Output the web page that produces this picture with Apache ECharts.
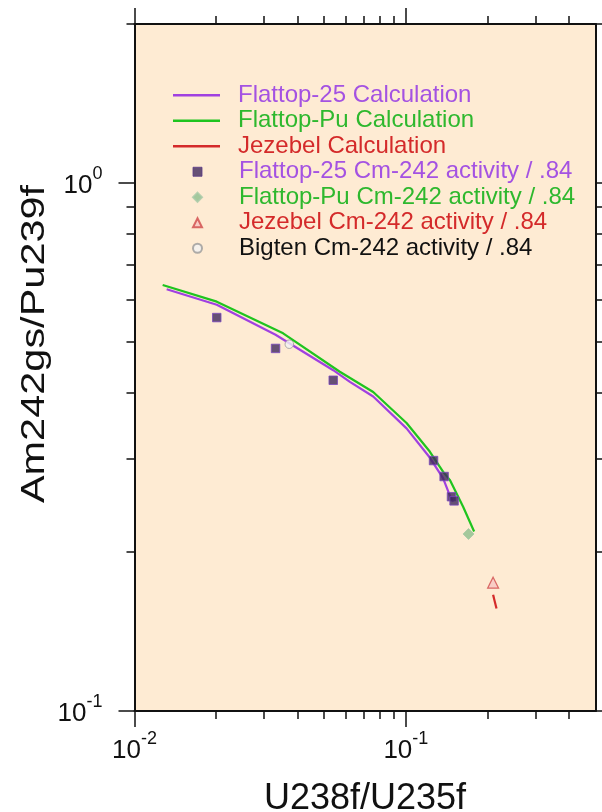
<!DOCTYPE html>
<html><head><meta charset="utf-8">
<script src="https://cdn.jsdelivr.net/npm/echarts@6/dist/echarts.min.js"></script>
<style>html,body{margin:0;padding:0;background:#fff}#c{width:602px;height:812px}</style>
</head><body><div id="c"></div>
<script>
// ---- tick values ----
const xMajorTicks = [0.01, 0.1];
const xMinorTicks = [0.02, 0.03, 0.04, 0.05, 0.06, 0.07, 0.08, 0.09, 0.2, 0.3, 0.4];
const yMajorTicks = [0.1, 1];
const yMinorTicks = [0.2, 0.3, 0.4, 0.5, 0.6, 0.7, 0.8, 0.9, 2];

// ---- calculated curves ----
const flattop25CalcX = [0.01314, 0.0201, 0.0331, 0.0540, 0.0622, 0.0758, 0.1006, 0.1225, 0.1371, 0.1452, 0.1493];
const flattop25CalcY = [0.629, 0.588, 0.516, 0.442, 0.420, 0.394, 0.343, 0.302, 0.276, 0.256, 0.249];
const flattopPuCalcX = [0.0127, 0.0201, 0.0353, 0.0571, 0.0758, 0.1006, 0.1225, 0.1371, 0.1452, 0.1626, 0.1785];
const flattopPuCalcY = [0.641, 0.596, 0.519, 0.439, 0.402, 0.351, 0.310, 0.284, 0.274, 0.2437, 0.2187];
const jezebelCalcX = [0.2097, 0.2158];
const jezebelCalcY = [0.166, 0.1564];

// ---- measured points (Cm-242 activity / .84) ----
const flattop25MeasX = [0.0201, 0.0331, 0.0540, 0.1265, 0.1384, 0.1473, 0.1506];
const flattop25MeasY = [0.556, 0.486, 0.423, 0.298, 0.278, 0.2546, 0.250];
const flattopPuMeasX = [0.1702];
const flattopPuMeasY = [0.2164];
const jezebelMeasX = [0.2097];
const jezebelMeasY = [0.175];
const bigtenMeasX = [0.0372];
const bigtenMeasY = [0.495];

const names = [
  'Flattop-25 Calculation', 'Flattop-Pu Calculation', 'Jezebel Calculation',
  'Flattop-25 Cm-242 activity / .84', 'Flattop-Pu Cm-242 activity / .84',
  'Jezebel Cm-242 activity / .84', 'Bigten Cm-242 activity / .84'
];

const FONT = '"Liberation Sans", Arial, Helvetica, sans-serif';
const INK = '#111111';
const PURPLE = '#A040E0', GREEN = '#1FC41F', RED = '#D42A2A';
const PURPLE_T = '#A452E2', GREEN_T = '#2EB82E', RED_T = '#D42A2A';

const zip = (xs, ys) => xs.map((x, i) => [x, ys[i]]);

const supLabel = v => {
  const e = Math.round(Math.log10(v));
  return '{b|10}{s|' + e + '}';
};
const rich = {
  b: { fontSize: 26, lineHeight: 26, fontFamily: FONT, color: INK, verticalAlign: 'bottom' },
  s: { fontSize: 18, lineHeight: 18, fontFamily: FONT, color: INK, verticalAlign: 'bottom', padding: [0, 0, 16, 0] }
};

const XMIN = 0.01, XMAX = 0.5, YMIN = 0.1, YMAX = 2;

function mkAxis(pos, kind, isX) {
  const major = kind === 'major';
  const ticks = isX ? (major ? xMajorTicks : xMinorTicks) : (major ? yMajorTicks : yMinorTicks);
  const labelled = major && (pos === 'bottom' || pos === 'left');
  const a = {
    type: 'log', logBase: 10, position: pos,
    min: isX ? XMIN : YMIN, max: isX ? XMAX : YMAX,
    axisLine: { show: major, onZero: false, lineStyle: { color: INK, width: 2 } },
    axisTick: { show: true, inside: false, length: major ? 16 : 8, customValues: ticks,
                lineStyle: { color: INK, width: 1.5 } },
    axisLabel: { show: labelled, customValues: ticks, formatter: supLabel, rich: rich,
                 margin: isX ? 27 : 32, padding: isX ? 0 : [6, 0, 0, 0], color: INK },
    splitLine: { show: false },
    minorTick: { show: false }, minorSplitLine: { show: false }
  };
  if (isX && pos === 'bottom' && major) {
    a.name = 'U238f/U235f';
    a.nameLocation = 'middle';
    a.nameGap = 70;
    a.nameTextStyle = { fontSize: 36, fontFamily: FONT, color: INK };
  }
  return a;
}

const chart = echarts.init(document.getElementById('c'), null, { renderer: 'canvas' });
const legendText = { fontSize: 24, lineHeight: 25.5, fontFamily: FONT };
const option = {
  animation: false,
  backgroundColor: '#ffffff',
  grid: { left: 134.5, top: 24, right: 6.5, bottom: 101, show: true,
          backgroundColor: '#FEEBD3', borderWidth: 0, outerBoundsMode: 'none', containLabel: false },
  xAxis: [mkAxis('bottom', 'major', true), mkAxis('bottom', 'minor', true),
          mkAxis('top', 'major', true), mkAxis('top', 'minor', true)],
  yAxis: [mkAxis('left', 'major', false), mkAxis('left', 'minor', false),
          mkAxis('right', 'major', false), mkAxis('right', 'minor', false)],
  graphic: [{
    type: 'text', x: 35, y: 344, rotation: Math.PI / 2, scaleX: 1.22, silent: true,
    style: { text: 'Am242gs/Pu239f', fontSize: 34, fontFamily: FONT, fill: INK,
             align: 'center', verticalAlign: 'middle' }
  }],
  legend: [{
    orient: 'vertical', left: 173, top: 82.5, padding: 0, itemGap: 0,
    itemWidth: 47, itemHeight: 2.4, selectedMode: false,
    textStyle: Object.assign({ padding: [0, 0, 0, 13] }, legendText),
    data: [
      { name: names[0], icon: 'rect', textStyle: { color: PURPLE_T } },
      { name: names[1], icon: 'rect', textStyle: { color: GREEN_T } },
      { name: names[2], icon: 'rect', textStyle: { color: RED_T } }
    ]
  }, {
    orient: 'vertical', left: 192, top: 159, padding: 0, itemGap: 0,
    itemWidth: 9, itemHeight: 9, selectedMode: false,
    textStyle: Object.assign({ padding: [0, 0, 0, 32] }, legendText),
    data: [
      { name: names[3], icon: 'rect', textStyle: { color: PURPLE_T },
        itemStyle: { color: '#40295E', borderColor: '#5A3A88', borderWidth: 1 } },
      { name: names[4], icon: 'diamond', textStyle: { color: GREEN_T } },
      { name: names[5], icon: 'triangle', textStyle: { color: RED_T } },
      { name: names[6], icon: 'circle', textStyle: { color: INK } }
    ]
  }],
  series: [
    { name: names[0], type: 'line', data: zip(flattop25CalcX, flattop25CalcY), symbol: 'none',
      lineStyle: { color: PURPLE, width: 2.2 }, itemStyle: { color: PURPLE }, z: 2 },
    { name: names[1], type: 'line', data: zip(flattopPuCalcX, flattopPuCalcY), symbol: 'none',
      lineStyle: { color: GREEN, width: 2.2 }, itemStyle: { color: GREEN }, z: 3 },
    { name: names[2], type: 'line', data: zip(jezebelCalcX, jezebelCalcY), symbol: 'none',
      lineStyle: { color: RED, width: 2.2 }, itemStyle: { color: RED }, z: 3 },
    { name: names[3], type: 'scatter', data: zip(flattop25MeasX, flattop25MeasY), symbol: 'rect', symbolSize: 8.5,
      itemStyle: { color: '#40295E', borderColor: '#7A48C0', borderWidth: 1 }, z: 5 },
    { name: names[4], type: 'scatter', data: zip(flattopPuMeasX, flattopPuMeasY), symbol: 'diamond', symbolSize: 11,
      itemStyle: { color: '#8DBF8D', borderColor: '#A6C9A6', borderWidth: 1 }, z: 5 },
    { name: names[5], type: 'scatter', data: zip(jezebelMeasX, jezebelMeasY), symbol: 'triangle', symbolSize: 11,
      itemStyle: { color: '#F6C6C2', borderColor: '#D04848', borderWidth: 1.2 }, z: 5 },
    { name: names[6], type: 'scatter', data: zip(bigtenMeasX, bigtenMeasY), symbol: 'circle', symbolSize: 8.5,
      itemStyle: { color: '#F2F2F2', borderColor: '#9A9A9A', borderWidth: 1 }, z: 5 }
  ]
};
chart.setOption(option);
</script>
</body></html>
